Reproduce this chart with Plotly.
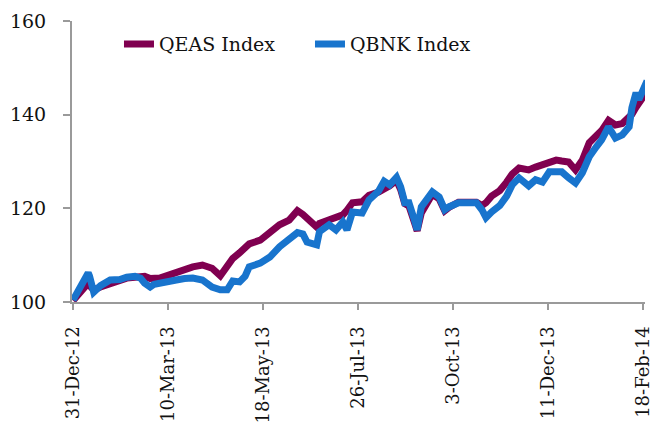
import plotly.graph_objects as go

dates = [
    "2012-12-31", "2013-01-03", "2013-01-05", "2013-01-08", "2013-01-11", "2013-01-12",
    "2013-01-15", "2013-01-20", "2013-01-27", "2013-02-03", "2013-02-08", "2013-02-14",
    "2013-02-18", "2013-02-21", "2013-02-25", "2013-02-28", "2013-03-04", "2013-03-11",
    "2013-03-16", "2013-03-22", "2013-03-28", "2013-04-04", "2013-04-08", "2013-04-11",
    "2013-04-17", "2013-04-22", "2013-04-26", "2013-05-01", "2013-05-05", "2013-05-08",
    "2013-05-16", "2013-05-23", "2013-05-30", "2013-06-06", "2013-06-12", "2013-06-16",
    "2013-06-19", "2013-06-26", "2013-06-28", "2013-07-05", "2013-07-10", "2013-07-15",
    "2013-07-18", "2013-07-22", "2013-07-29", "2013-08-03", "2013-08-10", "2013-08-14",
    "2013-08-18", "2013-08-23", "2013-08-26", "2013-08-29", "2013-09-01", "2013-09-05",
    "2013-09-07", "2013-09-10", "2013-09-14", "2013-09-18", "2013-09-23", "2013-09-27",
    "2013-09-30", "2013-10-07", "2013-10-15", "2013-10-20", "2013-10-24", "2013-10-27",
    "2013-10-31", "2013-11-06", "2013-11-11", "2013-11-15", "2013-11-20", "2013-11-27",
    "2013-12-02", "2013-12-07", "2013-12-12", "2013-12-17", "2013-12-21", "2013-12-26",
    "2013-12-31", "2014-01-05", "2014-01-10", "2014-01-15", "2014-01-19", "2014-01-24",
    "2014-01-29", "2014-02-03", "2014-02-08", "2014-02-10", "2014-02-13", "2014-02-15",
    "2014-02-19", "2014-02-21",
]

qeas = [
    100.3, 101.3, 102.0, 102.8, 104.0, 103.5,
    102.6, 103.2, 104.0, 104.8, 105.1, 105.3,
    105.6, 105.5, 105.0, 105.0, 105.1, 105.8,
    106.4, 107.1, 107.5, 107.9, 107.6, 107.2,
    105.6, 107.8, 109.3, 110.5, 111.4, 112.4,
    113.2, 114.7, 116.5, 117.5, 119.5, 118.7,
    118.0, 116.0, 116.8, 117.7, 118.1, 118.6,
    119.6, 121.2, 121.4, 122.8, 123.5, 124.0,
    124.8, 126.0, 124.0, 121.0, 120.5, 117.0,
    115.2, 119.0, 121.0, 123.0, 122.0, 119.5,
    120.2, 121.3, 121.3, 121.3, 120.6, 121.2,
    122.6, 123.8, 125.6, 127.3, 128.6, 128.2,
    128.8, 129.4, 130.0, 130.3, 130.1, 129.9,
    128.2, 130.3, 134.0, 135.3, 136.6, 138.8,
    137.8, 138.1, 139.4, 140.1, 141.6, 142.5,
    144.2, 145.0,
]

qbnk = [
    100.4, 102.0, 103.2, 104.3, 106.2, 105.5,
    102.1, 103.5, 104.7, 104.8, 105.3, 105.5,
    105.1, 104.0, 103.2, 103.8, 104.1, 104.5,
    104.7, 105.0, 105.1, 104.7, 104.0, 103.2,
    102.6, 102.6, 104.5, 104.3, 105.5, 107.5,
    108.3, 109.6, 111.8, 113.2, 114.8, 114.5,
    112.8, 112.2, 115.0, 116.5, 115.4, 117.1,
    115.4, 119.2, 119.0, 121.8, 123.7, 125.8,
    125.0, 126.6, 124.6, 121.2, 121.2, 117.5,
    115.4, 120.3, 121.8, 123.5, 122.4, 119.7,
    120.3, 121.2, 121.2, 121.2, 119.7, 118.0,
    119.2, 120.6, 122.6, 125.0, 126.5, 124.8,
    126.1, 125.6, 127.8, 127.8, 127.8, 126.5,
    125.4, 127.6, 131.0, 133.1, 134.6, 137.4,
    135.0, 135.7, 137.4, 141.5, 144.7, 143.2,
    146.4, 147.2,
]

series_names = ["QEAS Index", "QBNK Index"]
series_colors = ["#800050", "#1874CD"]

x_tickvals = ["2012-12-31", "2013-03-10", "2013-05-18", "2013-07-26",
              "2013-10-03", "2013-12-11", "2014-02-18"]
x_ticktext = ["31-Dec-12", "10-Mar-13", "18-May-13", "26-Jul-13",
              "3-Oct-13", "11-Dec-13", "18-Feb-14"]
y_tickvals = [100, 120, 140, 160]

font_family = "DejaVu Serif"
axis_grey = "#9a9a9a"

fig = go.Figure()
for name, vals, col in zip(series_names, [qeas, qbnk], series_colors):
    fig.add_trace(go.Scatter(
        x=dates, y=vals, name=name, mode="lines",
        line=dict(color=col, width=7),
    ))

fig.update_layout(
    width=656, height=423,
    margin=dict(l=72, r=11, t=21, b=121, autoexpand=False),
    paper_bgcolor="white", plot_bgcolor="white",
    font=dict(family=font_family, size=19, color="#111111"),
    showlegend=True,
    legend=dict(
        orientation="h", x=0.082, y=0.985, xanchor="left", yanchor="top",
        bgcolor="rgba(0,0,0,0)", font=dict(size=19), tracegroupgap=0,
        itemwidth=30, entrywidth=146, entrywidthmode="pixels",
    ),
    xaxis=dict(
        type="date", automargin=False,
        range=["2012-12-30 06:00", "2014-02-19 12:00"],
        tickmode="array", tickvals=x_tickvals, ticktext=x_ticktext,
        tickangle=-90, tickfont=dict(size=18),
        showline=True, linecolor=axis_grey, linewidth=2,
        ticks="outside", ticklen=6, tickwidth=2, tickcolor=axis_grey,
        showgrid=False, zeroline=False,
        ticklabelstandoff=9,
    ),
    yaxis=dict(
        range=[100, 160], automargin=False,
        tickmode="array", tickvals=y_tickvals,
        showline=True, linecolor=axis_grey, linewidth=2,
        ticks="outside", ticklen=7, tickwidth=2, tickcolor=axis_grey,
        showgrid=False, zeroline=False,
        ticklabelstandoff=13,
    ),
)

fig.write_html("out.html", config={"displayModeBar": False},
               post_script="document.body.style.margin='0';")
